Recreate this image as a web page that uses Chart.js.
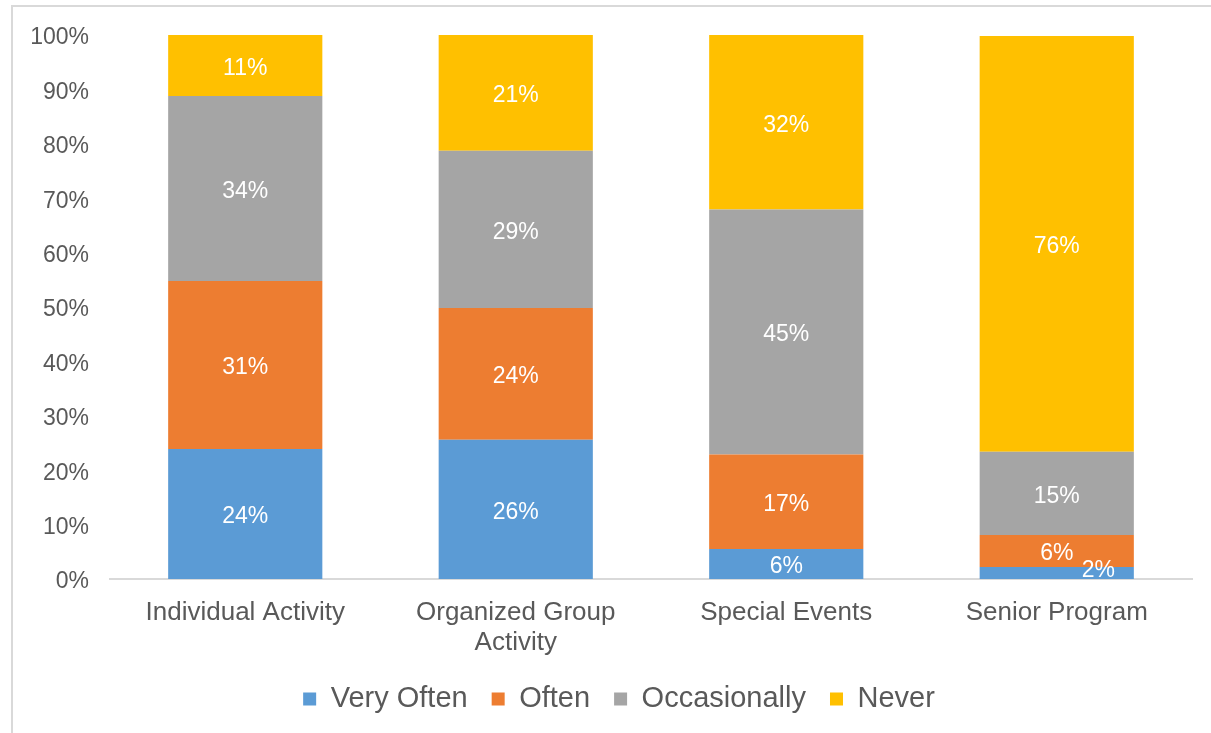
<!DOCTYPE html>
<html>
<head>
<meta charset="utf-8">
<script src="https://cdn.jsdelivr.net/npm/chart.js@4"></script>
<style>
  html, body { margin: 0; padding: 0; background: #fff; overflow: hidden; }
  #frame {
    position: absolute; left: 11px; top: 5px; width: 1400px; height: 900px;
    border-left: 2px solid #d9d9d9; border-top: 2px solid #d9d9d9;
  }
  #wrap { position: absolute; left: 0; top: 0; width: 1211px; height: 733px; }
</style>
</head>
<body>
<div id="frame"></div>
<div id="wrap"><canvas id="chart"></canvas></div>
<script>
// categories and series (percent of respondents)
const categories = ['Individual Activity', ['Organized Group', 'Activity'], 'Special Events', 'Senior Program'];
const very_often = [23.9, 25.6, 5.5, 2.2];
const often = [30.9, 24.2, 17.4, 5.9];
const occasionally = [34.0, 28.9, 45.0, 15.3];
const never = [11.2, 21.3, 32.1, 76.4];
const y_ticks = [0, 10, 20, 30, 40, 50, 60, 70, 80, 90, 100];

const text_color = '#595959';
const font_family = '"Liberation Sans", Arial, Helvetica, sans-serif';

function make_dataset(label, data, color) {
  return {
    label: label,
    data: data,
    backgroundColor: color,
    borderWidth: 0,
    categoryPercentage: 1.0,
    barPercentage: 0.57
  };
}

// white value labels in the middle of each segment
const value_labels = {
  id: 'valueLabels',
  afterDatasetsDraw(chart) {
    const ctx = chart.ctx;
    ctx.save();
    ctx.fillStyle = '#ffffff';
    ctx.font = '23px ' + font_family;
    ctx.textAlign = 'center';
    ctx.textBaseline = 'middle';
    chart.data.datasets.forEach((ds, i) => {
      const meta = chart.getDatasetMeta(i);
      meta.data.forEach((bar, j) => {
        let x = bar.x;
        let y = (bar.y + bar.base) / 2 + 3;
        // tiny segment: label pushed aside like the original
        if (Math.abs(bar.base - bar.y) < 16) {
          x += bar.width * 0.27;
          y -= 5;
        }
        ctx.fillText(Math.round(ds.data[j]) + '%', x, y);
      });
    });
    ctx.restore();
  }
};

// legend sits a bit right of the canvas centre in the original
const legend_shift = {
  id: 'legendShift',
  afterLayout(chart) {
    chart.legend.left += 23;
    chart.legend.right += 23;
  }
};

const data = {
  labels: categories,
  datasets: [
    make_dataset('Very Often', very_often, '#5B9BD5'),
    make_dataset('Often', often, '#ED7D31'),
    make_dataset('Occasionally', occasionally, '#A5A5A5'),
    make_dataset('Never', never, '#FFC000')
  ]
};

const config = {
  type: 'bar',
  data: data,
  options: {
    responsive: true,
    maintainAspectRatio: false,
    animation: false,
    layout: { padding: { top: 35, right: 19, bottom: 9.5, left: 0 } },
    scales: {
      x: {
        stacked: true,
        grid: { display: false, drawTicks: false },
        border: { display: true, color: '#d9d9d9', width: 2 },
        ticks: {
          color: text_color,
          padding: 19,
          maxRotation: 0,
          autoSkip: false,
          font: { family: font_family, size: 26, lineHeight: 1.15 }
        },
        afterFit(scale) { scale.height = 81.5; }
      },
      y: {
        stacked: true,
        min: 0,
        max: 100,
        grid: { display: false, drawTicks: false },
        border: { display: false },
        afterBuildTicks(scale) { scale.ticks = y_ticks.map(v => ({ value: v })); },
        ticks: {
          color: text_color,
          padding: 21,
          labelOffset: 3,
          font: { family: font_family, size: 23 },
          callback: (v) => v + '%'
        },
        afterFit(scale) { scale.width = 110; }
      }
    },
    plugins: {
      legend: {
        position: 'bottom',
        labels: {
          color: text_color,
          boxWidth: 13,
          boxHeight: 13,
          padding: 24,
          font: { family: font_family, size: 29 }
        }
      },
      tooltip: { enabled: false }
    }
  },
  plugins: [value_labels, legend_shift]
};

new Chart(document.getElementById('chart'), config);
</script>
</body>
</html>
